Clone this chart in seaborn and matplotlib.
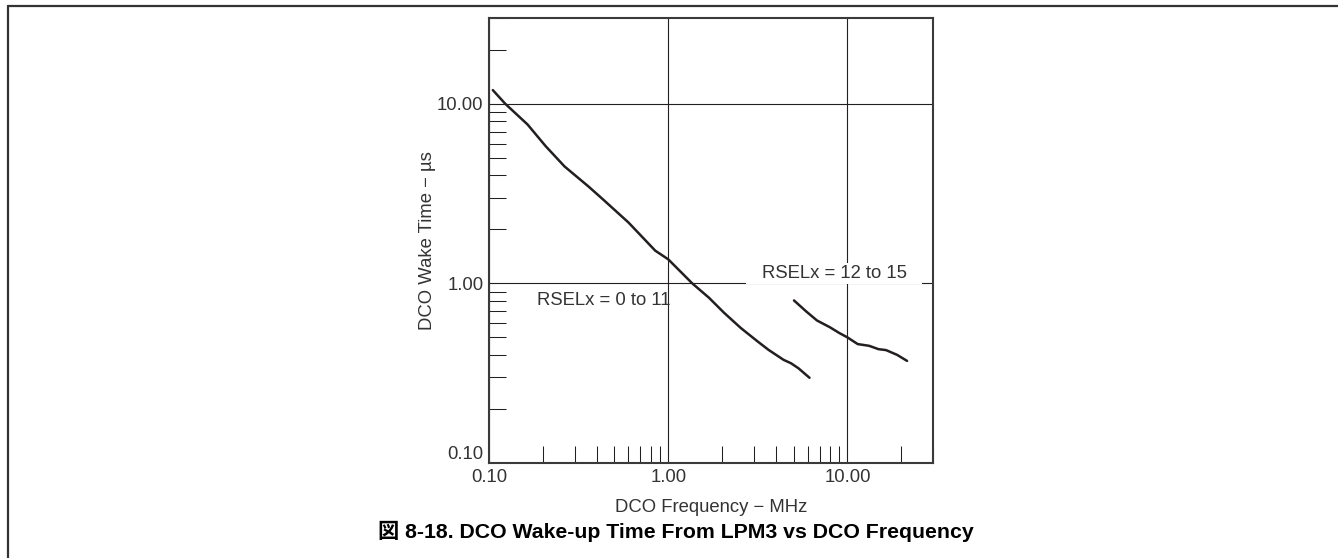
import numpy as np
import pandas as pd
import matplotlib
matplotlib.use('Agg')
import matplotlib.pyplot as plt
import matplotlib.ticker as mticker
import seaborn as sns

# curve values (MHz, us)
freq_low = [0.105, 0.123, 0.164, 0.207, 0.264, 0.36, 0.436, 0.6, 0.846, 1.0, 1.36, 1.69, 2.05, 2.54, 3.15, 3.63, 4.40, 4.84, 5.32, 6.14]
wake_low = [11.9, 10.0, 7.66, 5.80, 4.47, 3.45, 2.91, 2.18, 1.52, 1.36, 1.0, 0.83, 0.685, 0.564, 0.475, 0.426, 0.375, 0.359, 0.337, 0.298]

freq_high = [5.03, 5.86, 6.76, 7.99, 9.0, 10.0, 11.4, 13.2, 14.9, 16.4, 18.9, 21.5]
wake_high = [0.803, 0.700, 0.621, 0.569, 0.529, 0.500, 0.459, 0.449, 0.430, 0.425, 0.400, 0.370]

groups = ['RSELx = 0 to 11', 'RSELx = 12 to 15']
tick_vals = [0.1, 1.0, 10.0]
tick_labels = ['0.10', '1.00', '10.00']

df = pd.concat([
    pd.DataFrame({'freq': freq_low, 'wake': wake_low, 'rsel': groups[0]}),
    pd.DataFrame({'freq': freq_high, 'wake': wake_high, 'rsel': groups[1]}),
])

sns.set_style('white')
plt.rcParams['font.family'] = ['Liberation Sans', 'Noto Sans CJK JP', 'DejaVu Sans']
plt.rcParams['font.size'] = 13.3

txt = '#333333'
ink = '#231f20'

fig = plt.figure(figsize=(13.38, 5.58), dpi=100)
ax = fig.add_axes([0.3655, 0.1703, 0.3318, 0.7975])

sns.lineplot(data=df, x='freq', y='wake', hue='rsel', units='rsel', estimator=None, sort=False,
             palette=[ink, ink], linewidth=1.8, legend=False, ax=ax)

ax.set_xscale('log')
ax.set_yscale('log')
ax.set_xlim(0.1, 30)
ax.set_ylim(0.1, 30)

ax.xaxis.set_major_locator(mticker.FixedLocator(tick_vals))
ax.yaxis.set_major_locator(mticker.FixedLocator(tick_vals))
ax.xaxis.set_major_formatter(mticker.FixedFormatter(tick_labels))
ax.yaxis.set_major_formatter(mticker.FixedFormatter(tick_labels))
ax.xaxis.set_minor_locator(mticker.LogLocator(base=10, subs=np.arange(2, 10)))
ax.yaxis.set_minor_locator(mticker.LogLocator(base=10, subs=np.arange(2, 10)))
ax.xaxis.set_minor_formatter(mticker.NullFormatter())
ax.yaxis.set_minor_formatter(mticker.NullFormatter())

ax.tick_params(which='major', length=0, pad=4, labelsize=13.3, labelcolor=txt)
ax.tick_params(which='minor', direction='in', length=12, width=0.75, color=ink,
               bottom=True, left=True, top=False, right=False)
# lowest y label sits a little above the corner
ax.get_yticklabels()[0].set_verticalalignment('bottom')

ax.grid(True, which='major', color=ink, linewidth=0.8)
for s in ax.spines.values():
    s.set_color('#3a3a3a')
    s.set_linewidth(1.5)

ax.set_xlabel('DCO Frequency − MHz', color=txt, fontsize=13.3, labelpad=10)
ax.set_ylabel('DCO Wake Time − µs', color=txt, fontsize=13.3, labelpad=1)

ax.text(0.185, 0.80, groups[0], color=txt, fontsize=13.3, va='center', ha='left')
ax.text(3.32, 1.135, groups[1], color=txt, fontsize=13.3, va='center', ha='left', zorder=5,
        bbox=dict(boxstyle='square,pad=0.85', fc='white', ec='none', mutation_aspect=0.1))

fig.text(0.505, 0.048, '図 8-18. DCO Wake-up Time From LPM3 vs DCO Frequency',
         ha='center', va='center', fontsize=15.3, fontweight='bold', color='black')

# page frame around the figure
fig.add_artist(plt.Line2D([8 / 1338, 1], [1 - 6 / 558, 1 - 6 / 558], color='#333333', linewidth=1.6))
fig.add_artist(plt.Line2D([8 / 1338, 8 / 1338], [0, 1 - 6 / 558], color='#333333', linewidth=1.6))

fig.savefig('out.png', dpi=100)
